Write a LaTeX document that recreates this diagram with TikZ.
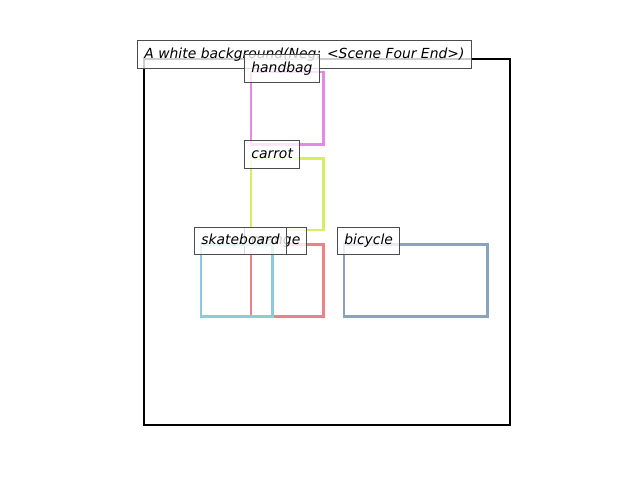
\documentclass[tikz,border=0pt]{standalone}
\usepackage{fontspec}
\setmainfont{DejaVu Sans}
\definecolor{bagcol}{RGB}{228,138,228}
\definecolor{carrotcol}{RGB}{212,240,98}
\definecolor{orangecol}{RGB}{234,132,132}
\definecolor{skatecol}{RGB}{138,204,220}
\definecolor{bikecol}{RGB}{138,162,192}
\tikzset{
  objbox/.style={line width=2.5pt},
  tagbox/.style={anchor=north west, draw=black!70, fill=white, fill opacity=0.8,
    text opacity=1, line width=1pt, inner xsep=6.6pt, inner ysep=7pt,
    text height=10.4pt, text depth=3pt,
    font=\fontsize{13.9}{16}\selectfont\itshape}
}
\begin{document}
\begin{tikzpicture}[x=1pt, y=-1pt]
    \useasboundingbox (0,0) rectangle (640,480);
    \begin{scope}

      \draw[line width=2pt, black] (144,59) rectangle (509.5,425);
      \node[tagbox] (title) at (137.3,40.3) {A white background(Neg: <Scene Four End>)};

      \draw[objbox, bagcol] (251,72) rectangle (323.5,144.5);
      \node[tagbox] (handbag) at (244.3,54.3) {handbag};

      \draw[objbox, carrotcol] (251,158.3) rectangle (323.5,230);
      \node[tagbox] (carrot) at (244.3,140.3) {carrot};

      \draw[objbox, orangecol] (251,244.3) rectangle (323.5,316.5);
      \node[tagbox] (orange) at (244.3,226.5) {orange};

      \draw[objbox, skatecol] (201,244.3) rectangle (272.5,316.5);
      \node[tagbox] (skateboard) at (194.3,226.5) {skateboard};

      \draw[objbox, bikecol] (344,244.3) rectangle (487.5,316.5);
      \node[tagbox] (bicycle) at (337.3,226.5) {bicycle};

    \end{scope}
\end{tikzpicture}
\end{document}
